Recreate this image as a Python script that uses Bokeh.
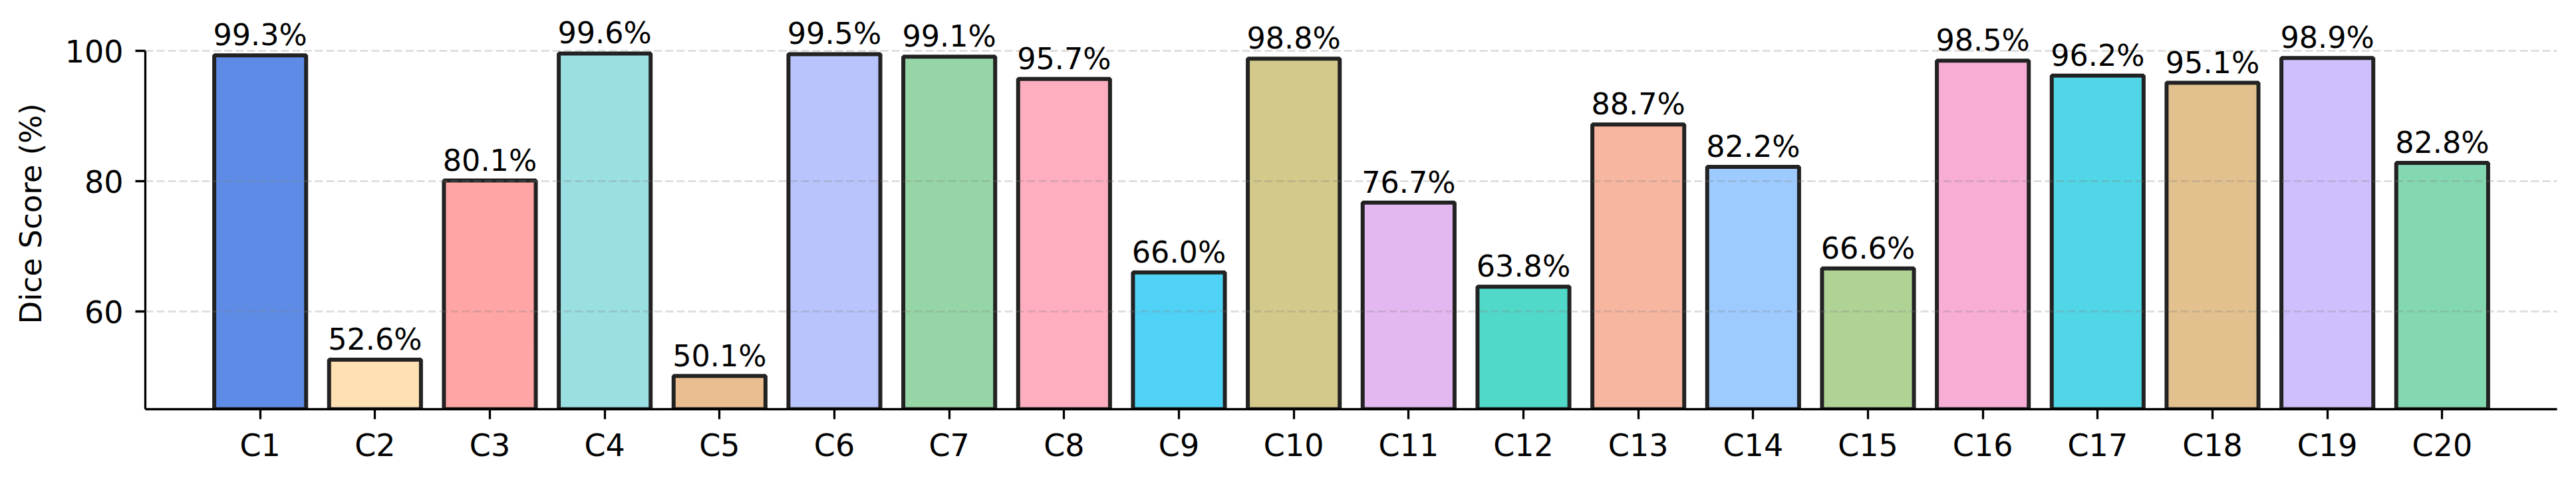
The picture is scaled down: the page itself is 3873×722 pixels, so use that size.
from bokeh.plotting import figure
from bokeh.models import ColumnDataSource, FactorRange, Range1d, FixedTicker, LabelSet
from bokeh.core.properties import value
from bokeh.embed import file_html
from bokeh.resources import INLINE

categories = ["C1", "C2", "C3", "C4", "C5", "C6", "C7", "C8", "C9", "C10",
              "C11", "C12", "C13", "C14", "C15", "C16", "C17", "C18", "C19", "C20"]
dice_scores = [99.3, 52.6, 80.1, 99.6, 50.1, 99.5, 99.1, 95.7, 66.0, 98.8,
               76.7, 63.8, 88.7, 82.2, 66.6, 98.5, 96.2, 95.1, 98.9, 82.8]
bar_colors = ["#5E8BE6", "#FFE0B2", "#FFA5A5", "#9ADFE2", "#EBBE91",
              "#BAC4FC", "#96D6A6", "#FFAEC0", "#4FD2F6", "#D2C98A",
              "#E3B8F0", "#50D9C8", "#F7B6A0", "#9ECBFF", "#AFD295",
              "#F8ADD5", "#50D6E6", "#E2C18E", "#CFC0FD", "#83D8B1"]
y_ticks = [60, 80, 100]

labels = [f"{v:.1f}%" for v in dice_scores]
source = ColumnDataSource(dict(cat=categories, val=dice_scores, color=bar_colors, label=labels))

FONT = "DejaVu Sans"

p = figure(
    width=3857, height=706,
    x_range=FactorRange(*categories, range_padding=0.5, range_padding_units="absolute"),
    y_range=Range1d(45, 105),
    output_backend="svg", toolbar_location=None,
    min_border_left=218, min_border_right=13, min_border_top=27, min_border_bottom=91,
)
p.outline_line_color = None
p.background_fill_color = "white"
p.border_fill_color = "white"

p.vbar(x="cat", top="val", bottom=0, width=0.8, source=source,
       fill_color="color", line_color="#222222", line_width=6)

lbls = LabelSet(x="cat", y="val", text="label", source=source,
                text_align="center", text_baseline="alphabetic", y_offset=15,
                text_font=value(FONT), text_font_size=value("44.5px"), text_color=value("black"))
p.add_layout(lbls)

# grid
p.xgrid.grid_line_color = None
p.ygrid.ticker = FixedTicker(ticks=y_ticks)
p.ygrid.grid_line_color = "gray"
p.ygrid.grid_line_alpha = 0.25
p.ygrid.grid_line_width = 3
p.ygrid.grid_line_dash = "12 5"
p.ygrid.level = "annotation"

# axes
p.yaxis.ticker = FixedTicker(ticks=y_ticks)
p.yaxis.bounds = (45, 100)
p.yaxis.axis_label = "Dice Score (%)"
for ax in (p.xaxis[0], p.yaxis[0]):
    ax.axis_line_color = "black"
    ax.axis_line_width = 3.3
    ax.major_tick_line_color = "black"
    ax.major_tick_line_width = 3.3
    ax.major_tick_out = 15
    ax.major_tick_in = 0
    ax.minor_tick_line_color = None
    ax.major_label_text_font = FONT
    ax.major_label_text_font_size = "46px"
    ax.major_label_text_color = "black"
    ax.axis_label_text_font = FONT
    ax.axis_label_text_font_size = "45px"
    ax.axis_label_text_font_style = "normal"
    ax.axis_label_text_color = "black"
p.yaxis.major_label_standoff = 18
p.yaxis.axis_label_standoff = 22
p.xaxis.major_label_standoff = 12

open("out.html", "w").write(file_html(p, INLINE))
